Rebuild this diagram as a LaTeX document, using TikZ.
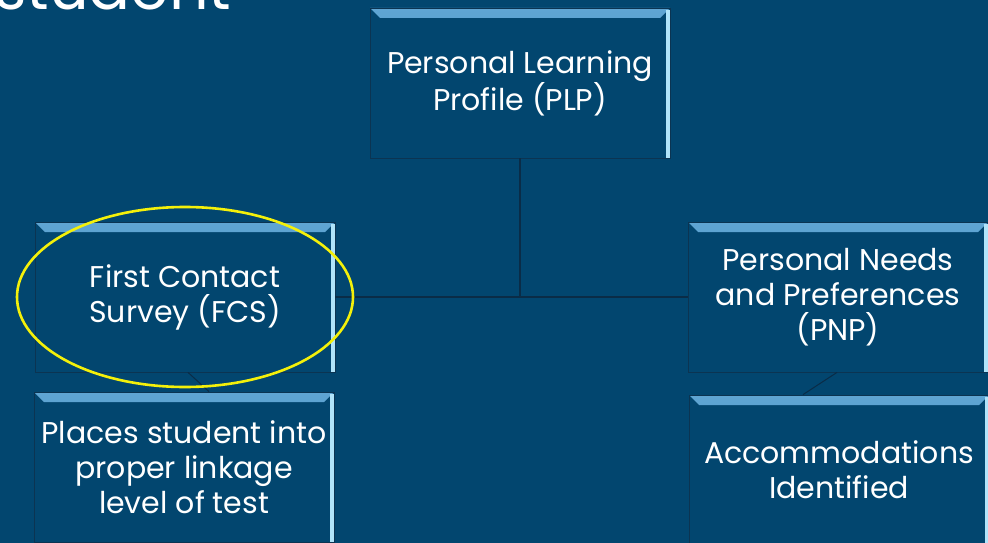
\documentclass[tikz,border=0pt]{standalone}
\usepackage{fontspec}
\setmainfont{Poppins}
\usepackage{tikz}
\definecolor{navy}{HTML}{02466F}
\definecolor{boxline}{HTML}{0B3452}
\definecolor{bevel}{HTML}{3C8ABD}
\definecolor{bevellight}{HTML}{5FA5D3}
\definecolor{rim}{HTML}{B0E4FA}
\definecolor{linkline}{HTML}{0A2C47}
\definecolor{mark}{HTML}{F4F00A}
\tikzset{
  stepbox/.style={draw=boxline, line width=0.8pt, fill=navy, minimum width=300pt, minimum height=150pt,
    align=center, text=white, font=\fontsize{30}{35}\selectfont, inner sep=0pt,
    path picture={
      \shade[top color=bevellight, bottom color=bevel] (path picture bounding box.north west) -- (path picture bounding box.north east)
        -- ([shift={(-10pt,-10pt)}]path picture bounding box.north east)
        -- ([shift={(10pt,-10pt)}]path picture bounding box.north west) -- cycle;
      \fill[rim] ([xshift=-4pt,yshift=-2pt]path picture bounding box.north east) rectangle (path picture bounding box.south east);
    }},
  link/.style={draw=linkline, line width=1.6pt},
  ring/.style={draw=mark, line width=2.6pt},
}
\begin{document}
\begin{tikzpicture}[x=1pt,y=-1pt]
\useasboundingbox (0,0) rectangle (988,543);
\clip (0,0) rectangle (988,543);
\fill[navy] (0,0) rectangle (988,543);
\node[anchor=base west, text=white, font=\fontsize{62}{70}\selectfont, inner sep=0pt] (title) at (-6,10) {student};

% connectors
\coordinate (hub) at (520,297);
\node[stepbox] (plp) at (520,83) {Personal Learning\\Profile (PLP)};
\node[stepbox] (fcs) at (185,297) {First Contact\\Survey (FCS)};
\node[stepbox] (pnp) at (838,297) {Personal Needs\\and Preferences\\(PNP)};
\node[stepbox] (fcsout) at (184,467) {Places student into\\proper linkage\\level of test};
\node[stepbox] (pnpout) at (839,470) {Accommodations\\Identified};
\draw[link] (plp.south) -- (hub);
\draw[link] (fcs.east) -- (pnp.west);
\draw[link, line width=1pt] ([xshift=3pt]fcs.south) -- ([xshift=25pt]fcsout.north);
\draw[link, line width=1pt] ([xshift=-1pt]pnp.south) -- ([xshift=-36pt]pnpout.north);

\draw[ring] (fcs.center) ellipse (168 and 90);
\end{tikzpicture}
\end{document}
